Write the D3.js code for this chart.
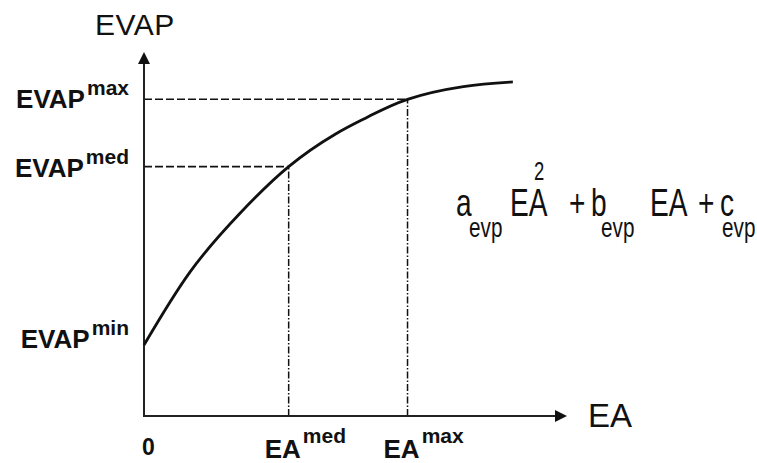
<!DOCTYPE html>
<html>
<head>
<meta charset="utf-8">
<script src="https://cdn.jsdelivr.net/npm/d3@7/dist/d3.min.js"></script>
<style>
  html, body { margin: 0; padding: 0; background: #fff; }
  svg { display: block; }
  text { font-family: "Liberation Sans", Arial, sans-serif; fill: #111; }
</style>
</head>
<body>
<svg id="chart" width="757" height="463"></svg>
<script>
// Evaporation response curve (relative units, 0–100 on both axes)
const eaValues   = [0, 10.9, 22.7, 34.2, 45.2, 53.0, 62.3, 75.5, 87.2];
const evapValues = [19.5, 39.6, 55.7, 68.5, 77.4, 82.2, 87.0, 90.5, 91.8];

// Reference levels marked on the axes
const levelNames = ["min", "med", "max"];
const levelEA    = [0, 34.2, 62.3];
const levelEVAP  = [19.5, 68.5, 87.0];

const svg = d3.select("#chart");
const x = d3.scaleLinear().domain([0, 100]).range([144, 567]);
const y = d3.scaleLinear().domain([0, 100]).range([416, 52]);

const ink = "#111";
const arrowLen = 12, arrowHalf = 6;

// Guide lines from the axes to the curve
levelNames.forEach((n, i) => {
  if (n === "min") return;
  svg.append("line")
    .attr("x1", x(0)).attr("x2", x(levelEA[i]))
    .attr("y1", y(levelEVAP[i])).attr("y2", y(levelEVAP[i]))
    .attr("stroke", ink).attr("stroke-width", 1.6)
    .attr("stroke-dasharray", "8,3");
  svg.append("line")
    .attr("x1", x(levelEA[i])).attr("x2", x(levelEA[i]))
    .attr("y1", y(0)).attr("y2", y(levelEVAP[i]))
    .attr("stroke", ink).attr("stroke-width", 1.5)
    .attr("stroke-dasharray", "7,2,1.5,2");
});

// Axes with arrow heads
svg.append("line")
  .attr("x1", x(0)).attr("x2", x(0))
  .attr("y1", y(0) + 1).attr("y2", y(100) + arrowLen)
  .attr("stroke", "#222").attr("stroke-width", 2);
svg.append("path")
  .attr("d", `M${x(0)},${y(100)} L${x(0) - arrowHalf},${y(100) + arrowLen} L${x(0) + arrowHalf},${y(100) + arrowLen} Z`)
  .attr("fill", ink);
svg.append("line")
  .attr("x1", x(0) - 1).attr("x2", x(100) - arrowLen)
  .attr("y1", y(0)).attr("y2", y(0))
  .attr("stroke", "#222").attr("stroke-width", 2);
svg.append("path")
  .attr("d", `M${x(100)},${y(0)} L${x(100) - arrowLen},${y(0) - arrowHalf} L${x(100) - arrowLen},${y(0) + arrowHalf} Z`)
  .attr("fill", ink);

// The response curve
const line = d3.line()
  .x((d, i) => x(eaValues[i]))
  .y(d => y(d))
  .curve(d3.curveNatural);
svg.append("path")
  .attr("d", line(evapValues))
  .attr("fill", "none")
  .attr("stroke", ink)
  .attr("stroke-width", 2.8);

// Axis titles
svg.append("text").attr("x", 95).attr("y", 35)
  .attr("font-size", 30).attr("letter-spacing", 0.5).text("EVAP");
svg.append("text").attr("x", 588).attr("y", 427)
  .attr("font-size", 33).text("EA");

// Origin label
svg.append("text").attr("x", x(0) + 4.5).attr("y", 455)
  .attr("text-anchor", "middle").attr("font-size", 23).attr("font-weight", "bold")
  .text("0");

// EVAP level labels
const evapBaseline = { min: 348, med: 177, max: 108 };
levelNames.forEach(n => {
  const t = svg.append("text").attr("x", 129).attr("y", evapBaseline[n])
    .attr("text-anchor", "end").attr("font-weight", "bold");
  t.append("tspan").attr("font-size", 26).text("EVAP");
  t.append("tspan").attr("font-size", 21).attr("dx", 2).attr("dy", -13).text(n);
});

// EA level labels
levelNames.forEach((n, i) => {
  if (n === "min") return;
  const t = svg.append("text").attr("x", x(levelEA[i]) - 24).attr("y", 458)
    .attr("font-weight", "bold");
  t.append("tspan").attr("font-size", 26).text("EA");
  t.append("tspan").attr("font-size", 21).attr("dx", 2).attr("dy", -15).text(n);
});

// Polynomial expression, set in a condensed face
const sx = 0.74;
const formula = [
  { t: "a",   x: 456, y: 216, s: 38 },
  { t: "evp", x: 469, y: 237, s: 28 },
  { t: "EA",  x: 510, y: 216, s: 38 },
  { t: "2",   x: 534, y: 180, s: 25 },
  { t: "+",   x: 569, y: 216, s: 38 },
  { t: "b",   x: 591, y: 216, s: 38 },
  { t: "evp", x: 601, y: 237, s: 28 },
  { t: "EA",  x: 650, y: 216, s: 38 },
  { t: "+",   x: 698, y: 216, s: 38 },
  { t: "c",   x: 720, y: 216, s: 38 },
  { t: "evp", x: 722, y: 237, s: 28 }
];
svg.append("g").selectAll("text").data(formula).join("text")
  .attr("transform", d => `translate(${d.x},${d.y}) scale(${sx},1)`)
  .attr("font-size", d => d.s)
  .text(d => d.t);
</script>
</body>
</html>
